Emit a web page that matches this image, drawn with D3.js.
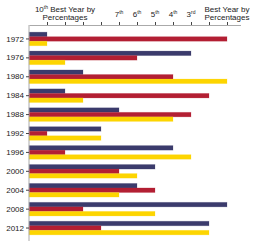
<!DOCTYPE html>
<html>
<head>
<meta charset="utf-8">
<script src="https://cdn.jsdelivr.net/npm/d3@7"></script>
<style>
    body { margin: 0; background: #fff; }
    text { font-family: "Liberation Sans", Arial, sans-serif; }
</style>
</head>
<body>
<script>
// years down the side
var years = ["1972", "1976", "1980", "1984", "1988", "1992", "1996", "2000", "2004", "2008", "2012"];
// rank of each year per series (1 = best year)
var navyRanks = [11, 3, 9, 10, 7, 8, 4, 5, 6, 1, 2];
var redRanks = [1, 6, 4, 2, 3, 11, 10, 7, 5, 9, 8];
var yellowRanks = [11, 10, 1, 9, 4, 8, 3, 6, 7, 5, 2];
var seriesNames = ["navy", "red", "yellow"];
var seriesColors = ["#3b3b6c", "#b31f33", "#fdd500"];
// top axis tick labels, by rank
var tickRanks = [11, 10, 9, 8, 7, 6, 5, 4, 3, 2, 1];
var tickNum = ["", "10", "", "", "7", "6", "5", "4", "3", "", ""];
var tickSup = ["", "th", "", "", "th", "th", "th", "th", "rd", "", ""];
var tickTail = ["", "Best Year by|Percentages", "", "", "", "", "", "", "", "", "Best Year by|Percentages"];

window.onload = function () {
    var width = 256;
    var height = 248;
    var svg = d3.select("body")
        .append("svg")
        .attr("width", width)
        .attr("height", height);

    var rows = years.map(function (y, i) {
        return {year: y, values: [navyRanks[i], redRanks[i], yellowRanks[i]]};
    });

    var x = d3.scaleLinear().domain([0, 11.75]).range([29, 240.5]);
    var y = d3.scaleBand().domain(years).range([29.5, 237.5])
        .paddingInner(0.28).paddingOuter(0.14);
    var ys = d3.scaleBand().domain(seriesNames).range([0, y.bandwidth()]);
    var color = d3.scaleOrdinal().domain(seriesNames).range(seriesColors);

    // bars
    var groups = svg.selectAll("g.year")
        .data(rows)
        .enter()
        .append("g")
        .attr("class", "year")
        .attr("transform", function (d) { return "translate(0," + y(d.year) + ")"; });
    groups.selectAll("rect")
        .data(function (d) {
            return d.values.map(function (r, j) { return {name: seriesNames[j], v: 12 - r}; });
        })
        .enter()
        .append("rect")
        .attr("x", x(0))
        .attr("y", function (d) { return ys(d.name); })
        .attr("width", function (d) { return x(d.v) - x(0); })
        .attr("height", ys.bandwidth())
        .attr("fill", function (d) { return color(d.name); })
        .attr("stroke", function (d) { return color(d.name); })
        .attr("stroke-opacity", 0.25)
        .attr("stroke-width", 0.8);

    // top axis
    var top = svg.append("g")
        .attr("transform", "translate(0,25)")
        .call(d3.axisTop(x)
            .tickValues(tickRanks.map(function (r) { return 12 - r; }))
            .tickSize(3)
            .tickSizeOuter(0)
            .tickFormat(""));
    top.select(".domain").attr("stroke", "#aaa");
    top.selectAll(".tick line").attr("stroke", "#444");

    tickRanks.forEach(function (r, i) {
        if (!tickNum[i] && !tickTail[i]) return;
        var cx = x(12 - r);
        var t = svg.append("text")
            .attr("text-anchor", "middle")
            .attr("font-size", 8)
            .attr("fill", "#222");
        if (tickTail[i]) {
            var parts = tickTail[i].split("|");
            var l1 = t.attr("x", cx).attr("y", 12);
            if (tickNum[i]) {
                l1.append("tspan").text(tickNum[i]);
                l1.append("tspan").attr("font-size", 5).attr("dy", -3).text(tickSup[i]);
                l1.append("tspan").attr("dy", 3).text(" " + parts[0]);
            } else {
                l1.append("tspan").text(parts[0]);
            }
            t.append("tspan").attr("x", cx).attr("dy", 8).text(parts[1]);
        } else {
            t.attr("x", cx).attr("y", 17);
            t.append("tspan").text(tickNum[i]);
            t.append("tspan").attr("font-size", 5).attr("dy", -3).text(tickSup[i]);
        }
    });

    // left axis
    var left = svg.append("g")
        .attr("transform", "translate(29,0)")
        .call(d3.axisLeft(y).tickSize(3).tickSizeOuter(0).tickPadding(2));
    left.select(".domain").attr("d", "M0,25V241").attr("stroke", "#aaa");
    left.selectAll(".tick line").attr("stroke", "#444");
    left.selectAll(".tick text")
        .attr("font-size", 8)
        .attr("font-family", "Liberation Sans, Arial, sans-serif")
        .attr("fill", "#222");
};
</script>
</body>
</html>
